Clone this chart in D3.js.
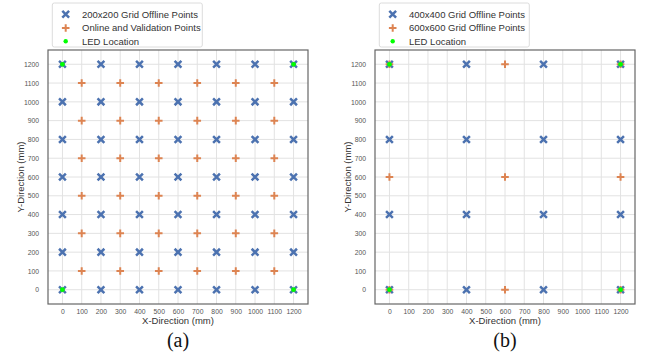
<!DOCTYPE html>
<html>
<head>
<meta charset="utf-8">
<script src="https://cdn.jsdelivr.net/npm/d3@7"></script>
<style>
  body { margin: 0; background: #fff; }
  svg { display: block; }
  svg text { font-family: "Liberation Sans", Arial, sans-serif; }
  .grid line { stroke: #e2e2e2; stroke-width: 1; }
  .tick text { fill: #555; font-size: 6.8px; font-family: "Liberation Sans", Arial, sans-serif; }
</style>
</head>
<body>
<div id="chart"></div>
<script>
var w = 649;
var h = 360;

// tick labels
var xTicks = [0, 100, 200, 300, 400, 500, 600, 700, 800, 900, 1000, 1100, 1200];
var yTicks = [0, 100, 200, 300, 400, 500, 600, 700, 800, 900, 1000, 1100, 1200];

// panel (a)
var gridA = [0, 200, 400, 600, 800, 1000, 1200];
var onlineA = [100, 300, 500, 700, 900, 1100];
// panel (b)
var gridB400 = [0, 400, 800, 1200];
var gridB600 = [0, 600, 1200];
// LEDs
var ledPos = [0, 1200];

var legendA = ["200x200 Grid Offline Points", "Online and Validation Points", "LED Location"];
var legendB = ["400x400 Grid Offline Points", "600x600 Grid Offline Points", "LED Location"];

var blue = "#4C72B0";
var orange = "#DD8452";
var green = "#00ff00";

function cross(vals) {
  var pts = [];
  vals.forEach(function(y){ vals.forEach(function(x){ pts.push([x, y]); }); });
  return pts;
}

var svg = d3.select("#chart").append("svg")
  .attr("width", w)
  .attr("height", h);

function xPath(cx, cy, r) {
  return "M" + (cx - r) + "," + (cy - r) + "L" + (cx + r) + "," + (cy + r) +
         "M" + (cx - r) + "," + (cy + r) + "L" + (cx + r) + "," + (cy - r);
}
function plusPath(cx, cy, r) {
  return "M" + (cx - r) + "," + cy + "L" + (cx + r) + "," + cy +
         "M" + cx + "," + (cy - r) + "L" + cx + "," + (cy + r);
}

function drawX(g, x, y, pts) {
  g.selectAll(null).data(pts).enter().append("path")
    .attr("d", function(d){ return xPath(x(d[0]), y(d[1]), 3.4); })
    .attr("stroke", blue)
    .attr("stroke-width", 2.5)
    .attr("fill", "none");
}

function drawPlus(g, x, y, pts) {
  g.selectAll(null).data(pts).enter().append("path")
    .attr("d", function(d){ return plusPath(x(d[0]), y(d[1]), 3.8); })
    .attr("stroke", orange)
    .attr("stroke-width", 2)
    .attr("fill", "none");
}

function drawDots(g, x, y, pts) {
  g.selectAll(null).data(pts).enter().append("circle")
    .attr("cx", function(d){ return x(d[0]); })
    .attr("cy", function(d){ return y(d[1]); })
    .attr("r", 2.4)
    .attr("fill", green);
}

function panel(left, blueVals, orangePts, labels, caption) {
  var x0 = left, x1 = left + 260, y0 = 50, y1 = 304;
  var x = d3.scaleLinear().domain([-75, 1275]).range([x0, x1]);
  var y = d3.scaleLinear().domain([-76, 1276]).range([y1, y0]);
  var g = svg.append("g");

  // grid
  g.append("g").attr("class", "grid")
    .selectAll("line").data(xTicks).enter().append("line")
    .attr("x1", function(d){ return x(d); }).attr("x2", function(d){ return x(d); })
    .attr("y1", y0).attr("y2", y1);
  g.append("g").attr("class", "grid")
    .selectAll("line").data(yTicks).enter().append("line")
    .attr("y1", function(d){ return y(d); }).attr("y2", function(d){ return y(d); })
    .attr("x1", x0).attr("x2", x1);

  // axes (labels only)
  var xa = g.append("g").attr("transform", "translate(0," + y1 + ")")
    .call(d3.axisBottom(x).tickValues(xTicks).tickFormat(d3.format("d")).tickSize(0).tickPadding(5));
  xa.select(".domain").remove();
  var ya = g.append("g").attr("transform", "translate(" + x0 + ",0)")
    .call(d3.axisLeft(y).tickValues(yTicks).tickFormat(d3.format("d")).tickSize(0).tickPadding(9));
  ya.select(".domain").remove();

  // frame
  g.append("rect")
    .attr("x", x0).attr("y", y0)
    .attr("width", x1 - x0).attr("height", y1 - y0)
    .attr("fill", "none").attr("stroke", "#666").attr("stroke-width", 1.2);

  drawX(g, x, y, cross(blueVals));
  drawPlus(g, x, y, orangePts);
  drawDots(g, x, y, cross(ledPos));

  // axis titles
  g.append("text")
    .attr("x", (x0 + x1) / 2).attr("y", 324)
    .attr("text-anchor", "middle")
    .attr("font-size", 9.5).attr("fill", "#333")
    .text("X-Direction (mm)");
  g.append("text")
    .attr("transform", "translate(" + (left - 24) + "," + ((y0 + y1) / 2) + ") rotate(-90)")
    .attr("text-anchor", "middle")
    .attr("font-size", 9.5).attr("fill", "#333")
    .text("Y-Direction (mm)");

  // caption
  g.append("text")
    .attr("x", (x0 + x1) / 2).attr("y", 347)
    .attr("text-anchor", "middle")
    .style("font-family", "'Liberation Serif', 'Times New Roman', serif")
    .attr("font-size", 20).attr("fill", "#111")
    .text(caption);

  // legend
  var lg = g.append("g").attr("transform", "translate(" + (left + 4.3) + ",3)");
  lg.append("rect")
    .attr("width", 150).attr("height", 44).attr("rx", 2)
    .attr("fill", "#fff").attr("stroke", "#dcdcdc");
  var rows = [11.3, 25, 38.3];
  var mx = 13.4;
  lg.append("path").attr("d", xPath(mx, rows[0], 3.4))
    .attr("stroke", blue).attr("stroke-width", 2.5);
  lg.append("path").attr("d", plusPath(mx, rows[1], 3.8))
    .attr("stroke", orange).attr("stroke-width", 2);
  lg.append("circle").attr("cx", mx).attr("cy", rows[2]).attr("r", 2.2).attr("fill", green);
  lg.selectAll("text.lbl").data(labels).enter().append("text")
    .attr("class", "lbl")
    .attr("x", 29.7)
    .attr("y", function(d, i){ return rows[i]; })
    .attr("dy", "0.35em")
    .attr("font-size", 9.5).attr("fill", "#333")
    .text(function(d){ return d; });
}

panel(48, gridA, cross(onlineA), legendA, "(a)");
panel(375, gridB400, cross(gridB600), legendB, "(b)");
</script>
</body>
</html>
